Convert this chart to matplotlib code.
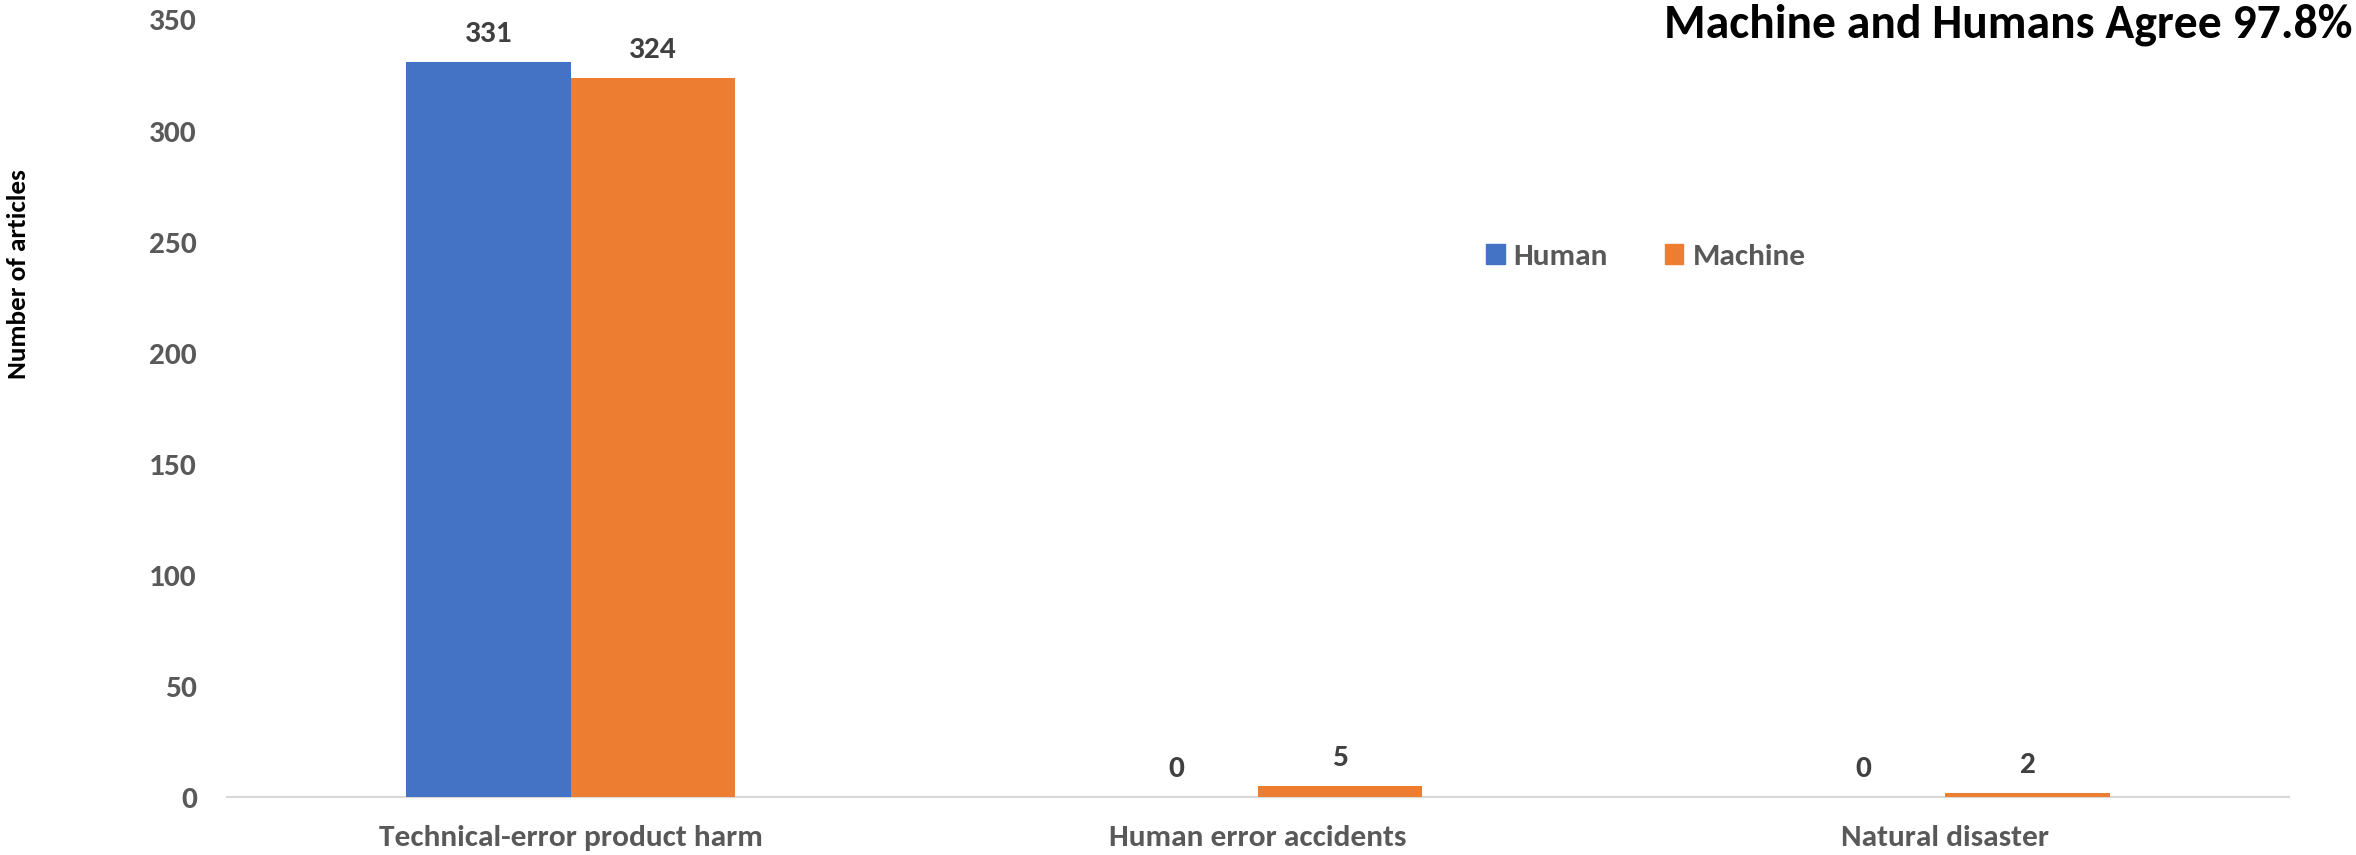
import matplotlib
matplotlib.use("Agg")
import matplotlib.pyplot as plt
from matplotlib.patches import Patch
import numpy as np

categories = ["Technical-error product harm", "Human error accidents", "Natural disaster"]
human = [331, 0, 0]
machine = [324, 5, 2]
series_names = ["Human", "Machine"]
yticks = [0, 50, 100, 150, 200, 250, 300, 350]
title = "Machine and Humans Agree 97.8%"
ylabel = "Number of articles"

BLUE = "#4472C4"
ORANGE = "#ED7D31"
TICK = "#595959"
LAB = "#404040"

plt.rcParams['font.family'] = ['Carlito', 'DejaVu Sans']
plt.rcParams['font.weight'] = 'bold'

FS = 22.6
W, H = 2356, 855
fig = plt.figure(figsize=(W / 100, H / 100), dpi=100)
ax = fig.add_axes([227 / W, (H - 797) / H, (2289 - 227) / W, (797 - 20) / H])

x = np.arange(len(categories))
bw = 0.239
b1 = ax.bar(x - bw / 2, human, bw, color=BLUE, label=series_names[0], zorder=2)
b2 = ax.bar(x + bw / 2, machine, bw, color=ORANGE, label=series_names[1], zorder=2)

for bars, vals in ((b1, human), (b2, machine)):
    for r, v in zip(bars, vals):
        ax.annotate(f"{v}", (r.get_x() + r.get_width() / 2, v),
                    xytext=(0, 14.4), textcoords="offset points",
                    ha="center", va="baseline", fontsize=FS,
                    fontweight="bold", color=LAB)

ax.set_xlim(-0.5, len(categories) - 0.5)
ax.set_ylim(0, 350)
ax.set_yticks(yticks)
ax.set_xticks(x)
ax.set_xticklabels(categories)
ax.tick_params(axis="both", length=0, labelsize=FS, labelcolor=TICK)
ax.tick_params(axis="y", pad=21.6)
ax.tick_params(axis="x", pad=20)
for lbl in ax.get_xticklabels() + ax.get_yticklabels():
    lbl.set_fontweight("bold")

for s in ("top", "right", "left"):
    ax.spines[s].set_visible(False)
ax.spines["bottom"].set_color("#D9D9D9")
ax.spines["bottom"].set_linewidth(1.6)
ax.spines["bottom"].set_zorder(1)

handles = [Patch(color=BLUE, label=series_names[0]), Patch(color=ORANGE, label=series_names[1])]
leg = fig.legend(handles=handles, loc="center", bbox_to_anchor=(1646 / W, (H - 257) / H),
                 ncol=2, frameon=False, fontsize=FS, handlelength=0.58, handleheight=0.58,
                 handletextpad=0.29, columnspacing=1.82, borderpad=0)
for t in leg.get_texts():
    t.set_color(TICK)
    t.set_fontweight("bold")

fig.text(2352 / W, (H - 38) / H, title, ha="right", va="baseline",
         fontsize=34.3, fontweight="bold", color="black")
fig.text(19 / W, (H - 274) / H, ylabel, rotation=90, ha="center", va="center",
         fontsize=19.5, fontweight="bold", color="black")

fig.savefig("out.png", dpi=100)
